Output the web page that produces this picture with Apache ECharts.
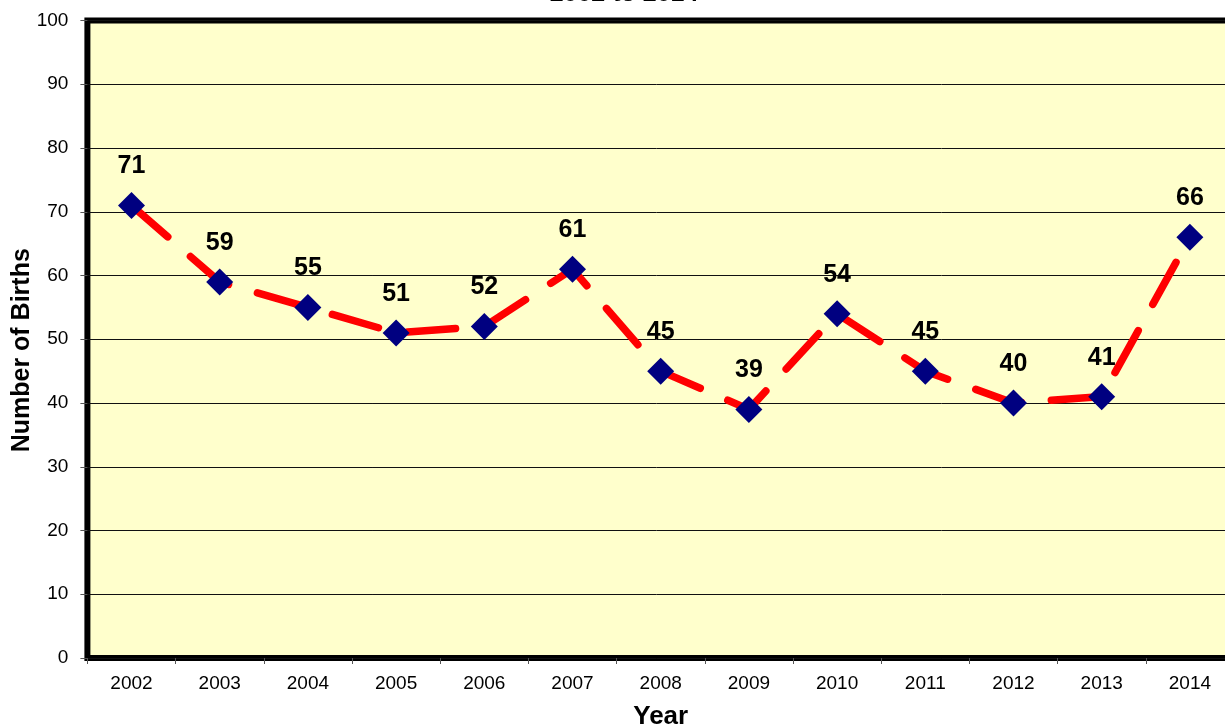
<!DOCTYPE html>
<html>
<head>
<meta charset="utf-8">
<script src="https://cdn.jsdelivr.net/npm/echarts@6/dist/echarts.min.js"></script>
<style>
  html, body { margin: 0; padding: 0; background: #fff; }
  #main { width: 1225px; height: 724px; }
</style>
</head>
<body>
<div id="main"></div>
<script>
var years = ['2002', '2003', '2004', '2005', '2006', '2007', '2008', '2009', '2010', '2011', '2012', '2013', '2014'];
var births = [71, 59, 55, 51, 52, 61, 45, 39, 54, 45, 40, 41, 66];
var yTicks = { min: 0, max: 100, interval: 10 };
var titleText = '2002 to 2014';

var font = '"Liberation Sans", Arial, sans-serif';
var myChart = echarts.init(document.getElementById('main'));

var option = {
    backgroundColor: '#ffffff',
    animation: false,
    textStyle: { fontFamily: font },
    graphic: [{
        type: 'text',
        x: 624,
        y: 7,
        style: {
            text: titleText,
            fontFamily: font,
            fontSize: 25,
            fontWeight: 'bold',
            fill: '#000',
            textAlign: 'center',
            textVerticalAlign: 'bottom'
        }
    }],
    grid: {
        left: 87.4,
        top: 20.5,
        width: 1146.6,
        height: 637.5,
        outerBoundsMode: 'none',
        containLabel: false,
        show: true,
        backgroundColor: '#FFFFCC',
        borderColor: '#000',
        borderWidth: 6
    },
    xAxis: {
        type: 'category',
        data: years,
        boundaryGap: true,
        name: 'Year',
        nameLocation: 'middle',
        nameGap: 46,
        nameTextStyle: { fontFamily: font, fontSize: 26, fontWeight: 'bold', color: '#000' },
        axisLine: { show: false },
        axisTick: { show: true, length: 6, lineStyle: { color: '#555' } },
        axisLabel: { fontFamily: font, fontSize: 19, color: '#000', margin: 16 },
        splitLine: { show: false }
    },
    yAxis: {
        type: 'value',
        min: yTicks.min,
        max: yTicks.max,
        interval: yTicks.interval,
        name: 'Number of Births',
        nameLocation: 'middle',
        nameGap: 53,
        nameMoveOverlap: false,
        nameTextStyle: { fontFamily: font, fontSize: 25, fontWeight: 'bold', color: '#000', padding: [0, 22, 0, 0] },
        axisLine: { show: false },
        axisTick: { show: true, length: 7, lineStyle: { color: '#555' } },
        axisLabel: { fontFamily: font, fontSize: 19, color: '#000', margin: 19 },
        splitLine: { show: true, lineStyle: { color: '#111', width: 1 } }
    },
    series: [{
        type: 'line',
        data: births,
        symbol: 'diamond',
        symbolSize: 27,
        itemStyle: { color: '#000080' },
        lineStyle: { color: '#FF0000', width: 7.5, type: [48, 30], cap: 'round' },
        label: {
            show: true,
            position: 'top',
            distance: 13,
            fontFamily: font,
            fontSize: 25,
            fontWeight: 'bold',
            color: '#000'
        }
    }]
};

myChart.setOption(option);
window.onresize = myChart.resize;
</script>
</body>
</html>
